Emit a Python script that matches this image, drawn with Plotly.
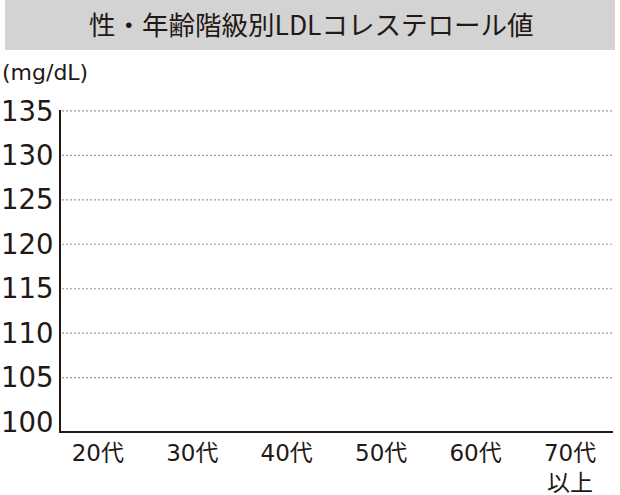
import plotly.graph_objects as go

# ---- data ----
categories = ["20代", "30代", "40代", "50代", "60代", "70代<br>以上"]
values = [None, None, None, None, None, None]  # no series plotted in the reference
y_ticks = [100, 105, 110, 115, 120, 125, 130, 135]
title_text = "性・年齢階級別LDLコレステロール値"
unit_text = "(mg/dL)"

# ---- layout geometry (page pixels) ----
W, H = 620, 495
L, R, T, B = 61, 620 - 613, 110, 495 - 431
pw, ph = W - L - R, H - T - B

def px(x):
    return (x - L) / pw

def py(y):
    return (H - B - y) / ph

INK = "#231815"
FONT = "DejaVu Sans, Noto Sans CJK JP, sans-serif"

fig = go.Figure()
fig.add_trace(go.Scatter(x=categories, y=values, mode="lines",
                         line=dict(color=INK), showlegend=False, hoverinfo="skip"))

shapes = [
    dict(type="rect", xref="paper", yref="paper",
         x0=px(5), x1=px(615), y0=py(50), y1=py(0),
         fillcolor="#d3d3d3", line=dict(width=0), layer="below"),
]
for v in y_ticks:
    if v == y_ticks[0]:
        continue
    shapes.append(dict(type="line", xref="paper", yref="y",
                       x0=px(62), x1=px(612), y0=v, y1=v,
                       line=dict(color="#9a9a9a", width=1.2, dash="2px,2px"),
                       layer="below"))

fig.update_layout(
    width=W, height=H,
    margin=dict(l=L, r=R, t=T, b=B, pad=0, autoexpand=False),
    paper_bgcolor="white", plot_bgcolor="white",
    font=dict(family=FONT, color=INK),
    showlegend=False,
    shapes=shapes,
    annotations=[
        dict(text=title_text, xref="paper", yref="paper",
             x=px(311), y=py(24), xanchor="center", yanchor="middle",
             showarrow=False, font=dict(size=26.5, color=INK,
                                        family="Noto Sans CJK JP, DejaVu Sans, sans-serif")),
        dict(text=unit_text, xref="paper", yref="paper",
             x=px(0), y=py(72), xanchor="left", yanchor="middle",
             showarrow=False, font=dict(size=22, color=INK)),
    ],
    xaxis=dict(
        type="category", categoryorder="array", categoryarray=categories,
        range=[-0.39, 5.455], automargin=False,
        showgrid=False, zeroline=False,
        showline=True, linecolor=INK, linewidth=2,
        ticks="", tickfont=dict(size=23, color=INK),
        ticklabelstandoff=0,
    ),
    yaxis=dict(
        range=[99, 135.1], automargin=False,
        tickvals=y_ticks, ticktext=[str(v) for v in y_ticks],
        showgrid=False, zeroline=False,
        showline=True, linecolor=INK, linewidth=2,
        ticks="", tickfont=dict(size=27.5, color=INK),
        ticklabelstandoff=0,
    ),
)

fig.write_html("out.html", config={"displayModeBar": False},
               post_script="document.body.style.margin='0';")
